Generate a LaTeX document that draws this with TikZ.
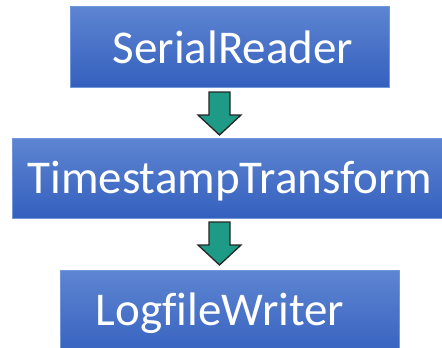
\documentclass[tikz,border=0pt]{standalone}
\usepackage{fontspec}
\setmainfont{Carlito}[Ligatures=NoCommon]
\definecolor{boxtop}{RGB}{94,133,210}
\definecolor{boxbottom}{RGB}{52,96,190}
\definecolor{boxedge}{RGB}{112,150,220}
\definecolor{arrowfill}{RGB}{30,155,135}
\tikzset{
  stagebox/.style={draw=boxedge, line width=1pt, top color=boxtop, bottom color=boxbottom, inner sep=0pt},
  stagelabel/.style={text=white, font=\fontsize{47}{52}\selectfont, anchor=base, inner sep=0pt},
  blockarrow/.style={draw=black!85, line width=1.3pt, fill=arrowfill, line join=miter}
}
% block arrow pointing down, drawn from its top centre: shaft 21 wide, head 43 wide
\newcommand\downblock[2]{%
  \draw[blockarrow] (#1) ++(-10.5,0) -- ++(21,0) -- ++(0,#2) -- ++(11,0)
    -- ++(-21.5,20) -- ++(-21.5,-20) -- ++(11,0) -- cycle;}
\begin{document}
\begin{tikzpicture}[x=1pt, y=-1pt]
  \clip (0,0) rectangle (442,348);
  \fill[white] (0,0) rectangle (442,348);
  % processing stages
  \node[stagebox, minimum width=319, minimum height=81] (reader) at (229.5,46.5) {};
  \node[stagelabel] (readerlabel) at (233,63) {SerialReader};
  \node[stagebox, minimum width=436, minimum height=80] (transform) at (230,178) {};
  \node[stagelabel] (transformlabel) at (230,193) {TimestampTransform};
  \node[stagebox, minimum width=339, minimum height=90] (writer) at (229.5,315) {};
  \node[stagelabel] (writerlabel) at (220,325) {LogfileWriter};
  % flow arrows between stages
  \coordinate (arrowAtop) at (219.5,92);
  \coordinate (arrowBtop) at (219.5,222);
  \downblock{arrowAtop}{23}
  \downblock{arrowBtop}{23}
\end{tikzpicture}
\end{document}
